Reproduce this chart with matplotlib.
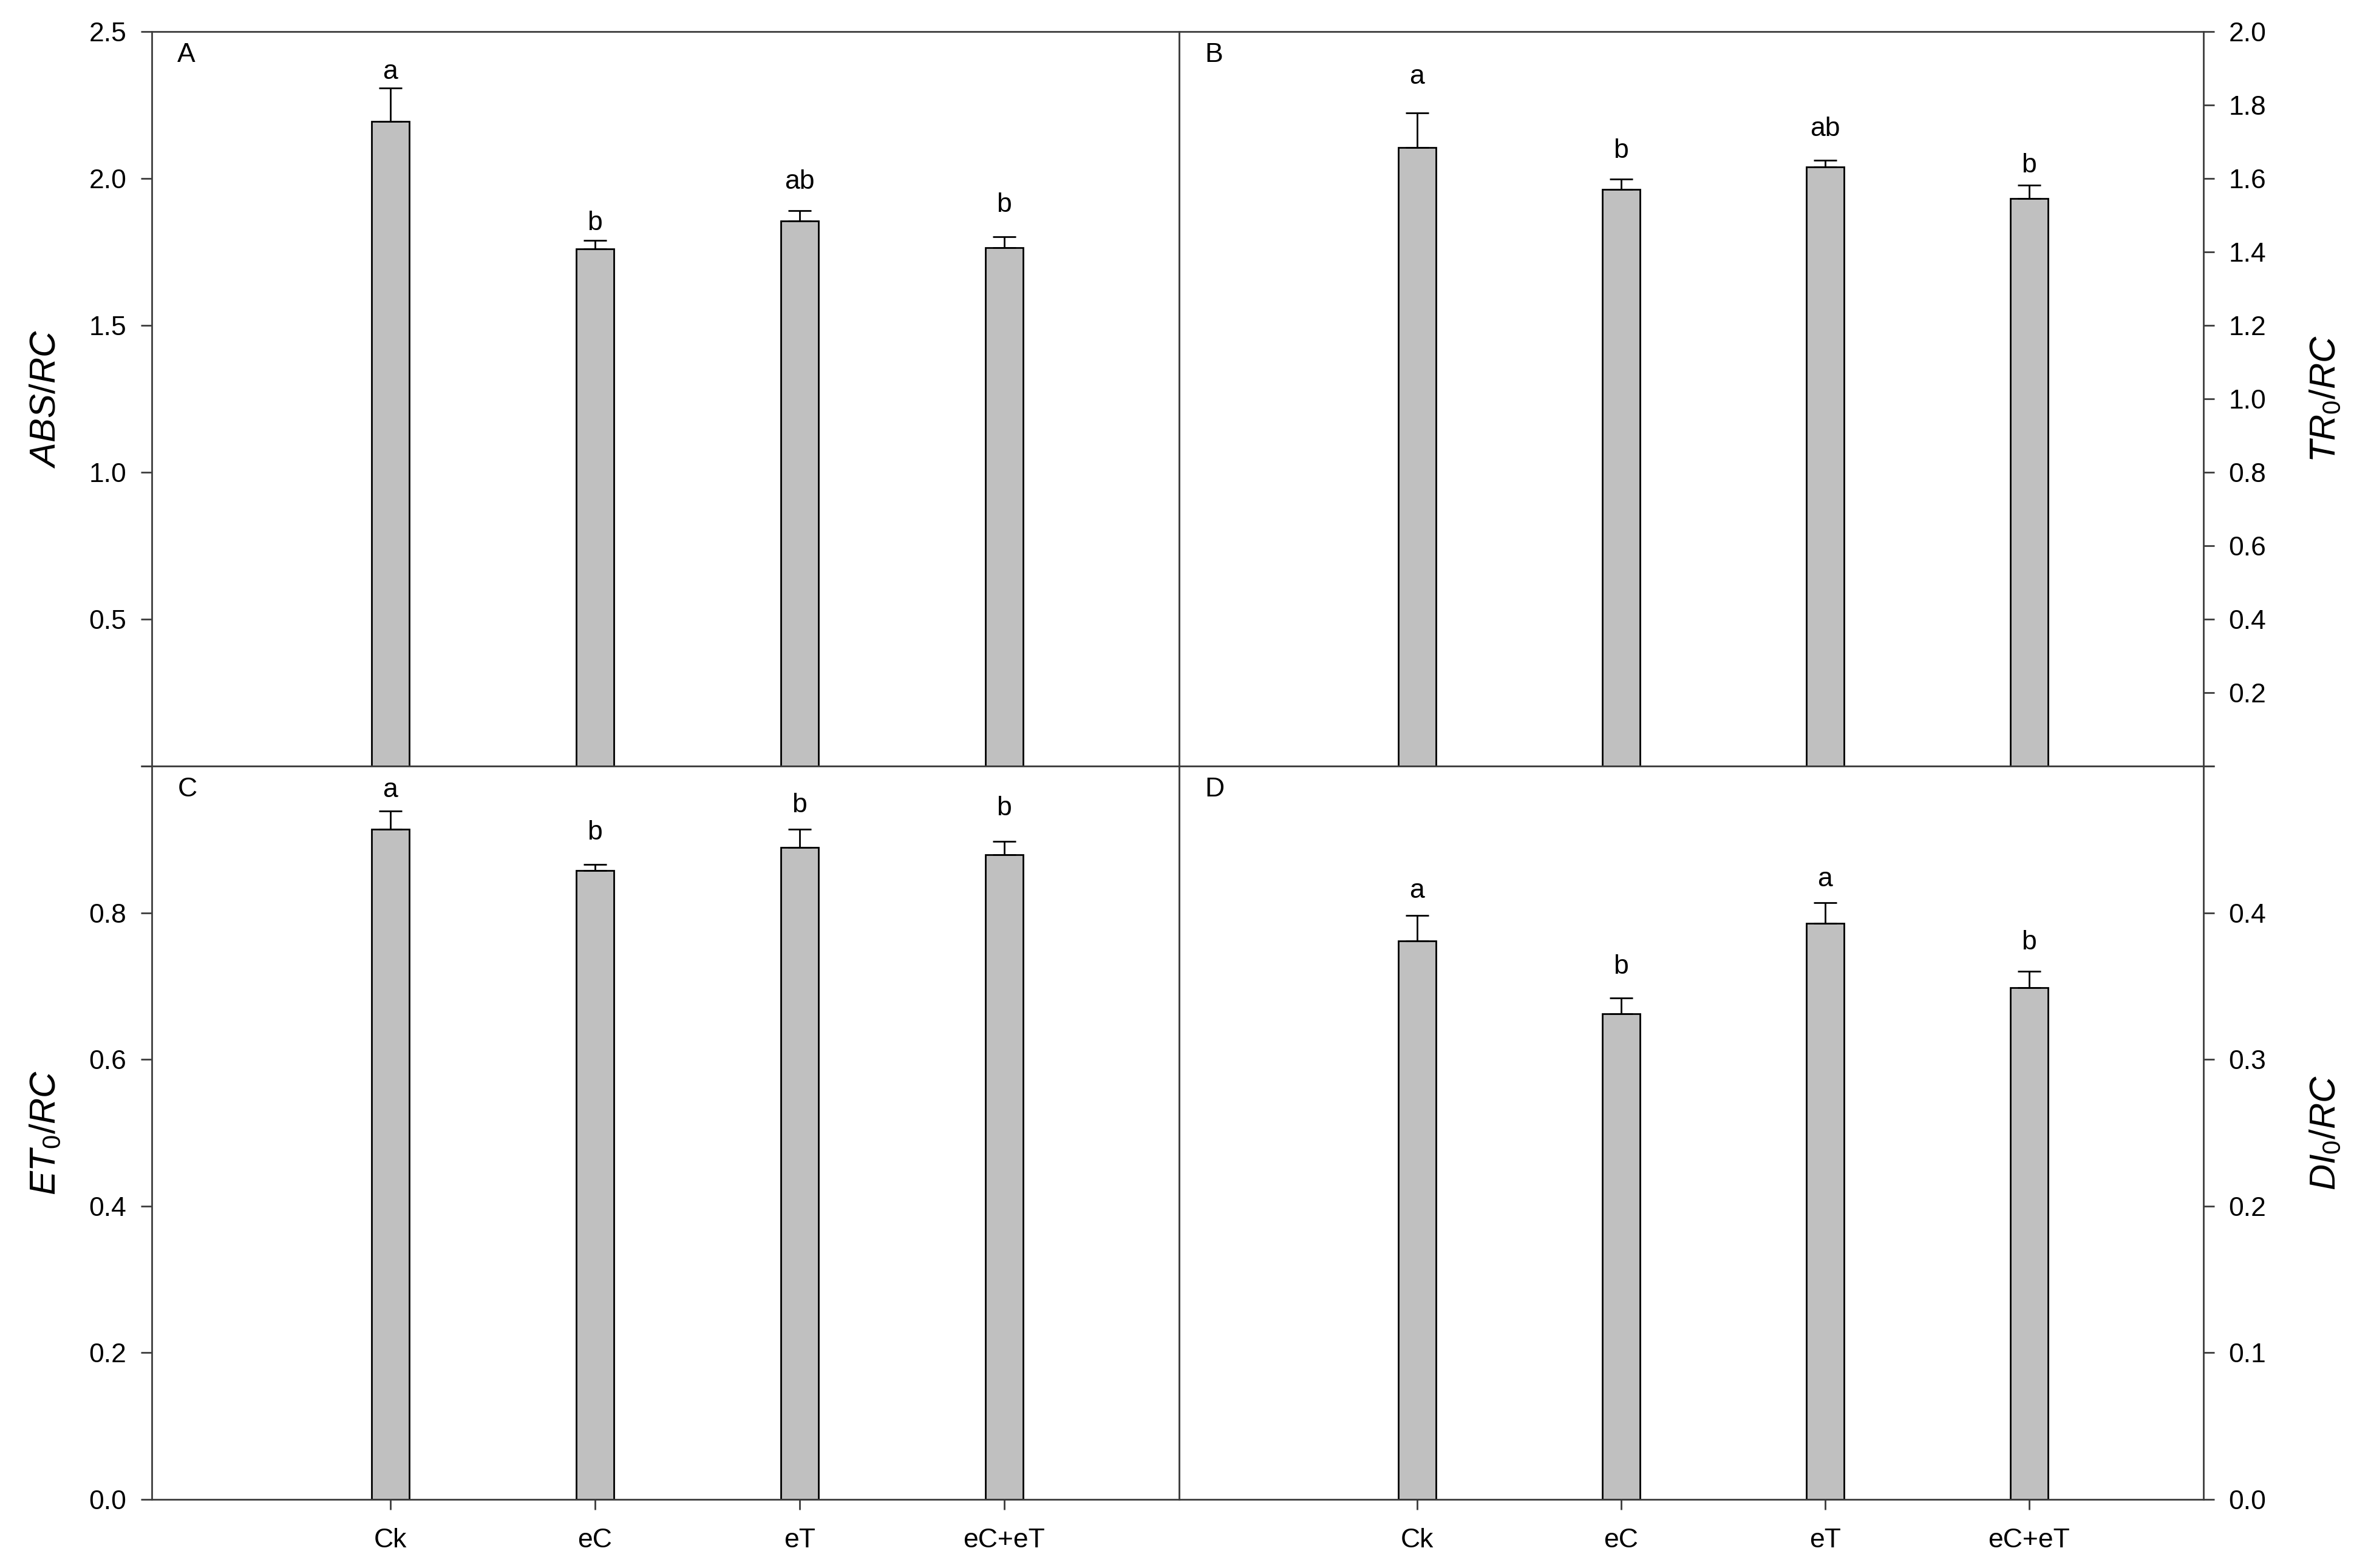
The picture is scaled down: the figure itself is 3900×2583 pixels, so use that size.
import numpy as np
import matplotlib.pyplot as plt

plt.rcParams['font.family'] = ['Liberation Sans', 'DejaVu Sans']
plt.rcParams['mathtext.fontset'] = 'custom'
plt.rcParams['mathtext.it'] = 'Liberation Sans:italic'
plt.rcParams['mathtext.rm'] = 'Liberation Sans'

# treatments on the x axis
treatments = ['Ck', 'eC', 'eT', 'eC+eT']

# A - ABS/RC
abs_rc = [2.195, 1.760, 1.855, 1.765]
abs_rc_se = [0.112, 0.030, 0.035, 0.036]
abs_rc_sig = ['a', 'b', 'ab', 'b']
abs_rc_sig_y = [2.338, 1.825, 1.964, 1.887]

# B - TR0/RC
tr0_rc = [1.684, 1.570, 1.632, 1.545]
tr0_rc_se = [0.094, 0.028, 0.018, 0.036]
tr0_rc_sig = ['a', 'b', 'ab', 'b']
tr0_rc_sig_y = [1.858, 1.657, 1.715, 1.616]

# C - ET0/RC
et0_rc = [0.914, 0.858, 0.889, 0.879]
et0_rc_se = [0.025, 0.008, 0.025, 0.018]
et0_rc_sig = ['a', 'b', 'b', 'b']
et0_rc_sig_y = [0.958, 0.900, 0.937, 0.933]

# D - DI0/RC
di0_rc = [0.381, 0.331, 0.393, 0.349]
di0_rc_se = [0.017, 0.011, 0.014, 0.011]
di0_rc_sig = ['a', 'b', 'a', 'b']
di0_rc_sig_y = [0.410, 0.3585, 0.418, 0.375]

W, H = 3900, 2583
fig = plt.figure(figsize=(W / 100, H / 100), dpi=100)

# panel edges in pixels
x0, xm, x1 = 250, 1942, 3629
y0, ym, y1 = 52, 1262, 2470

def px_box(l, r, t, b):
    return [l / W, 1 - b / H, (r - l) / W, (b - t) / H]

axA = fig.add_axes(px_box(x0, xm, y0, ym))
axB = fig.add_axes(px_box(xm, x1, y0, ym))
axC = fig.add_axes(px_box(x0, xm, ym, y1))
axD = fig.add_axes(px_box(xm, x1, ym, y1))

x = np.arange(1, len(treatments) + 1)
spine_col = '#3c3c3c'


def panel(ax, vals, se, sig, sig_y, letter, ymax, ticks, ticklabels, side, show_x):
    ax.bar(x, vals, width=0.184, color='#c0c0c0', edgecolor='black', linewidth=2, zorder=2)
    ax.errorbar(x, vals, yerr=[np.zeros(len(se)), se], fmt='none', ecolor='black',
                elinewidth=2, capsize=13.5, capthick=2, zorder=3)
    for xi, yy, t in zip(x, sig_y, sig):
        ax.text(xi, yy, t, ha='center', va='baseline', fontsize=32)
    ax.set_xlim(-0.166, 4.855)
    ax.set_ylim(0, ymax)
    ax.set_yticks(ticks)
    ax.set_yticklabels(ticklabels)
    for sp in ax.spines.values():
        sp.set_linewidth(2)
        sp.set_color(spine_col)
    if side == 'right':
        ax.yaxis.tick_right()
    ax.tick_params(axis='y', direction='out', length=13, width=2, labelsize=32, pad=17,
                   color=spine_col)
    if show_x:
        ax.set_xticks(x)
        ax.set_xticklabels(treatments)
        ax.tick_params(axis='x', direction='out', length=12, width=2, labelsize=32, pad=22,
                       color=spine_col)
    else:
        ax.set_xticks([])
    ax.text(0.025, 0.985, letter, transform=ax.transAxes, ha='left', va='top', fontsize=32)


panel(axA, abs_rc, abs_rc_se, abs_rc_sig, abs_rc_sig_y, 'A', 2.5,
      [0, 0.5, 1.0, 1.5, 2.0, 2.5], ['', '0.5', '1.0', '1.5', '2.0', '2.5'], 'left', False)
panel(axB, tr0_rc, tr0_rc_se, tr0_rc_sig, tr0_rc_sig_y, 'B', 2.0,
      np.arange(0, 2.01, 0.2), [''] + ['%.1f' % v for v in np.arange(0.2, 2.01, 0.2)], 'right', False)
panel(axC, et0_rc, et0_rc_se, et0_rc_sig, et0_rc_sig_y, 'C', 1.0,
      np.arange(0, 1.01, 0.2), ['%.1f' % v for v in np.arange(0, 0.81, 0.2)] + [''], 'left', True)
panel(axD, di0_rc, di0_rc_se, di0_rc_sig, di0_rc_sig_y, 'D', 0.5,
      np.arange(0, 0.51, 0.1), ['%.1f' % v for v in np.arange(0, 0.41, 0.1)] + [''], 'right', True)

# axis titles
lab_kw = dict(rotation=90, ha='center', va='center', fontsize=43)
fig.text(75 / W, 1 - (y0 + ym) / 2 / H, r'$\mathit{ABS/RC}$', **lab_kw)
fig.text(3830 / W, 1 - (y0 + ym) / 2 / H, r'$\mathit{TR_0/RC}$', **lab_kw)
fig.text(75 / W, 1 - (ym + y1) / 2 / H, r'$\mathit{ET_0/RC}$', **lab_kw)
fig.text(3830 / W, 1 - (ym + y1) / 2 / H, r'$\mathit{DI_0/RC}$', **lab_kw)

fig.savefig('out.png', dpi=100)
